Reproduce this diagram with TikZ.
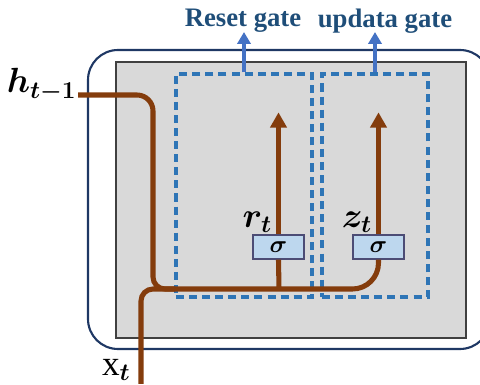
\documentclass[tikz,border=0pt]{standalone}
\usepackage{amsmath}
\usepackage{fontspec}
\setmainfont{Liberation Serif}
\usetikzlibrary{arrows.meta,positioning}
\definecolor{flowbrown}{HTML}{843C0C}
\definecolor{gateblue}{HTML}{2E75B6}
\definecolor{outblue}{HTML}{4472C4}
\definecolor{titleblue}{HTML}{1F4E79}
\definecolor{framenavy}{HTML}{1F3864}
\definecolor{sigfill}{HTML}{BDD7EE}
\tikzset{
  frame/.style   = {draw=framenavy, line width=1.5pt, rounded corners=0.75cm},
  cellbg/.style  = {draw=black!75, fill=black!15, line width=0.8pt},
  gatebox/.style = {rectangle, draw=gateblue, line width=2.3pt,
                    dash pattern=on 5.7pt off 3.6pt, inner sep=0pt},
  sigbox/.style  = {rectangle, draw=black!60!blue!40!gray, fill=sigfill, line width=0.9pt,
                    minimum width=1.275cm, minimum height=0.6cm, inner sep=0pt,
                    font=\fontsize{17}{19}\selectfont},
  gatelbl/.style = {text=titleblue, font=\bfseries\fontsize{19}{22}\selectfont, inner sep=1pt},
  varlbl/.style  = {font=\fontsize{25}{28}\selectfont, inner sep=1pt},
  flow/.style    = {draw=flowbrown, line width=3.6pt},
  flowar/.style  = {flow, -{Triangle[length=0.38cm, width=0.4cm]}},
  gatear/.style  = {draw=outblue, line width=2.8pt, -{Triangle[length=0.3cm, width=0.33cm]}}
}
\begin{document}
\begin{tikzpicture}[x=0.025cm, y=-0.025cm]
    \useasboundingbox (0,0) rectangle (480,385);
    % cell
    \draw[frame] (88,50) rectangle (490,349);
    \draw[cellbg] (116,62) rectangle (466,338);
    % gates
    \node[gatebox, minimum width=3.4cm, minimum height=5.575cm] (reset) at (244,185.5) {};
    \node[gatebox, minimum width=2.65cm, minimum height=5.575cm] (update) at (375,185.5) {};
    \node[gatelbl] (resetlbl) at (243,21) {Reset gate};
    \node[gatelbl] (updatelbl) at (385,21) {updata gate};
    \draw[gatear] (reset.north) -- (reset.north |- 0,32);
    \draw[gatear] (update.north) -- (update.north |- 0,32);
    % sigmoid layers
    \node[sigbox] (rsig) at (278.5,247) {$\boldsymbol{\sigma}$};
    \node[sigbox] (zsig) at (378.5,247) {$\boldsymbol{\sigma}$};
    \node[varlbl, above left=0cm and 0.12cm of rsig.north] (rlbl) {$\boldsymbol{r_t}$};
    \node[varlbl, above left=0cm and 0.12cm of zsig.north] (zlbl) {$\boldsymbol{z_t}$};
    % inputs
    \coordinate (hin) at (78,95);
    \coordinate (xin) at (141,384);
    \coordinate (join) at (279,289);
    \node[varlbl, left=0cm of hin, yshift=0.25cm] (hlbl) {$\boldsymbol{h_{t-1}}$};
    \node[varlbl, left=0.22cm of xin, yshift=0.36cm] (xlbl) {$\mathrm{x}_{\boldsymbol{t}}$};
    % flows
    \draw[flow, rounded corners=0.4cm] (hin) -- (153,95) [rounded corners=0.3cm] -- (153,289)
      -- (join) [rounded corners=0.65cm] -- (zsig.south |- join) [sharp corners] -- (zsig.south);
    \draw[flow, rounded corners=0.3cm] (xin) -- (141,289) -- (175,289);
    \draw[flow] (join) -- (rsig.south);
    \draw[flowar] (rsig.north) -- ++(0,-122);
    \draw[flowar] (zsig.north) -- ++(0,-122);
\end{tikzpicture}
\end{document}
